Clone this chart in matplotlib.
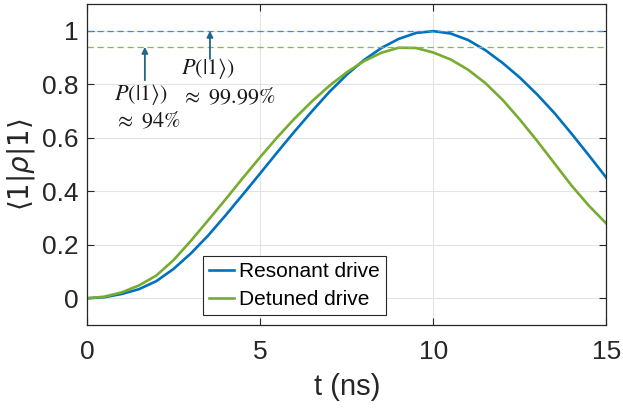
import matplotlib
matplotlib.use("Agg")
import matplotlib.pyplot as plt

# values
t_ns = [0, 0.5, 1, 1.5, 2, 2.5, 3, 3.5, 4, 4.5, 5, 5.5, 6, 6.5, 7, 7.5,
        8, 8.5, 9, 9.5, 10, 10.5, 11, 11.5, 12, 12.5, 13, 13.5, 14, 14.5, 15]
resonant = [0, 0.004, 0.016, 0.034, 0.064, 0.11, 0.168, 0.235, 0.31, 0.388,
            0.467, 0.547, 0.625, 0.70, 0.772, 0.836, 0.891, 0.936, 0.970, 0.992,
            0.999, 0.99, 0.966, 0.928, 0.88, 0.825, 0.762, 0.692, 0.614, 0.533, 0.45]
detuned = [0, 0.006, 0.022, 0.048, 0.085, 0.143, 0.215, 0.292, 0.37, 0.45,
           0.528, 0.603, 0.673, 0.737, 0.795, 0.845, 0.887, 0.918, 0.937, 0.936,
           0.919, 0.893, 0.855, 0.805, 0.742, 0.668, 0.588, 0.504, 0.42, 0.345, 0.279]
levels = [1.0, 0.94]
labels = ["Resonant drive", "Detuned drive"]
notes = ["$P(|1\\rangle)$\n$\\approx$ 99.99%", "$P(|1\\rangle)$\n$\\approx$ 94%"]

blue = "#0072BD"
green = "#77AC30"
arrow_c = "#22668a"

plt.rcParams["font.family"] = ["Liberation Sans", "DejaVu Sans"]

fig = plt.figure(figsize=(6.23, 4.11), dpi=100)
ax = fig.add_axes([0.1397, 0.2092, 0.8338, 0.7808])

ax.plot(t_ns, resonant, color=blue, lw=1.9, label=labels[0])
ax.plot(t_ns, detuned, color=green, lw=1.9, label=labels[1])
ax.axhline(levels[0], color="#2f93da", lw=0.9, ls=(0, (5, 3)))
ax.axhline(levels[1], color="#86bb3c", lw=0.9, ls=(0, (5, 3)))

ax.annotate("", xy=(3.55, levels[0]), xytext=(3.55, 0.895),
            arrowprops=dict(arrowstyle="-|>", color=arrow_c, lw=1.3,
                            mutation_scale=9, shrinkA=0, shrinkB=0))
ax.annotate("", xy=(1.67, levels[1]), xytext=(1.67, 0.815),
            arrowprops=dict(arrowstyle="-|>", color=arrow_c, lw=1.3,
                            mutation_scale=9, shrinkA=0, shrinkB=0))
ax.text(2.72, 0.905, notes[0], ha="left", va="top", fontsize=16,
        family="STIXGeneral", math_fontfamily="stix", color="#1a1a1a",
        linespacing=1.35)
ax.text(0.78, 0.81, notes[1], ha="left", va="top", fontsize=16,
        family="STIXGeneral", math_fontfamily="stix", color="#1a1a1a",
        linespacing=1.3)

ax.set_xlim(0, 15)
ax.set_ylim(-0.1, 1.1)
ax.set_xticks([0, 5, 10, 15])
ax.set_yticks([0, 0.2, 0.4, 0.6, 0.8, 1])
ax.set_yticklabels(["0", "0.2", "0.4", "0.6", "0.8", "1"])
ax.grid(True, color="#e3e3e3", lw=0.8)
ax.set_axisbelow(True)
ax.tick_params(direction="in", top=True, right=True, labelsize=19,
               colors="#262626", length=5, width=0.8)
ax.tick_params(axis="x", pad=11)
ax.tick_params(axis="y", pad=6)
for s in ax.spines.values():
    s.set_color("#262626")
    s.set_linewidth(0.9)

ax.set_xlabel("t (ns)", fontsize=21, color="#262626", labelpad=6)
ax.set_ylabel(r"$\langle 1|\rho|1\rangle$", fontsize=20, color="#262626",
              labelpad=4)

leg = ax.legend(loc="lower left", bbox_to_anchor=(0.2227, 0.031),
                borderaxespad=0, fontsize=15, fancybox=False,
                handlelength=1.2, handletextpad=0.25, borderpad=0.3,
                labelspacing=0.4, framealpha=1)
leg.get_frame().set_edgecolor("#262626")
leg.get_frame().set_linewidth(0.8)

fig.savefig("out.png", dpi=100)
